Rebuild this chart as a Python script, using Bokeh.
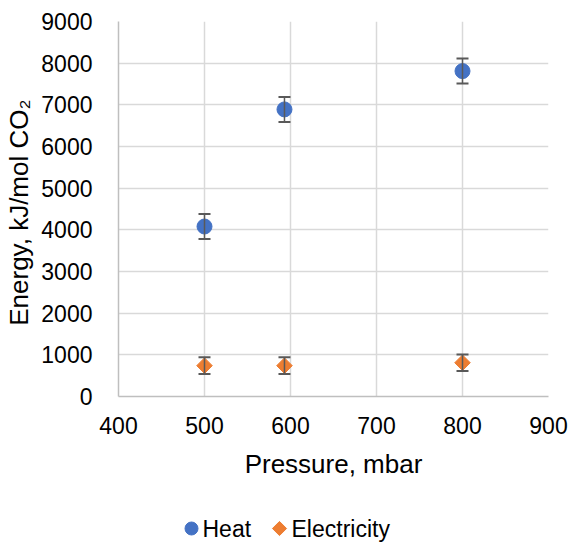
import math
from bokeh.plotting import figure
from bokeh.layouts import column
from bokeh.models import ColumnDataSource, Whisker, TeeHead, FixedTicker, Range1d
from bokeh.core.properties import value
from bokeh.embed import file_html
from bokeh.resources import INLINE

pressure_heat = [500, 593, 800]
heat = [4080, 6890, 7810]
heat_err = [300, 300, 300]

pressure_elec = [500, 593, 800]
electricity = [740, 740, 810]
elec_err = [200, 200, 200]

x_ticks = [400, 500, 600, 700, 800, 900]
y_ticks = [0, 1000, 2000, 3000, 4000, 5000, 6000, 7000, 8000, 9000]
series_names = ["Heat", "Electricity"]

FONT = "Liberation Sans"
HEAT_C = "#4472C4"
ELEC_C = "#ED7D31"
LEFT, RIGHT = 118, 23

p = figure(width=571, height=500, output_backend="svg", toolbar_location=None,
           x_range=Range1d(400, 900), y_range=Range1d(0, 9000),
           min_border_left=LEFT, min_border_right=RIGHT, min_border_top=21, min_border_bottom=104)
p.outline_line_color = None
p.background_fill_color = "white"
p.border_fill_color = "white"

p.xaxis.ticker = FixedTicker(ticks=x_ticks)
p.yaxis.ticker = FixedTicker(ticks=y_ticks)
for ax in (p.xaxis[0], p.yaxis[0]):
    ax.major_label_text_font = FONT
    ax.major_label_text_font_size = "23px"
    ax.major_label_text_color = "#000000"
    ax.axis_label_text_font = FONT
    ax.axis_label_text_font_size = "26px"
    ax.axis_label_text_font_style = "normal"
    ax.axis_label_text_color = "#000000"
    ax.axis_line_color = "#BFBFBF"
    ax.axis_line_width = 1.5
    ax.major_tick_line_color = None
    ax.minor_tick_line_color = None
p.xaxis.axis_label = "Pressure, mbar"
p.yaxis.axis_label = "Energy,  kJ/mol CO₂"
p.xaxis.major_label_standoff = 14
p.yaxis.major_label_standoff = 20
p.xaxis.axis_label_standoff = 12
p.yaxis.axis_label_standoff = 4
p.grid.grid_line_color = "#D9D9D9"
p.grid.grid_line_width = 1.5

src_h = ColumnDataSource(dict(x=pressure_heat, y=heat,
                              lo=[v - e for v, e in zip(heat, heat_err)],
                              hi=[v + e for v, e in zip(heat, heat_err)]))
src_e = ColumnDataSource(dict(x=pressure_elec, y=electricity,
                              lo=[v - e for v, e in zip(electricity, elec_err)],
                              hi=[v + e for v, e in zip(electricity, elec_err)]))

for src in (src_h, src_e):
    w = Whisker(source=src, base="x", lower="lo", upper="hi",
                line_color="#595959", line_width=1.5,
                upper_head=TeeHead(size=12, line_color="#595959", line_width=2),
                lower_head=TeeHead(size=12, line_color="#595959", line_width=2))
    w.level = "glyph"
    p.add_layout(w)

p.scatter("x", "y", source=src_h, marker="circle", size=15,
          fill_color=HEAT_C, line_color=HEAT_C)
p.scatter("x", "y", source=src_e, marker="square", size=11, angle=math.pi / 4,
          fill_color=ELEC_C, line_color=ELEC_C)

# legend strip below the chart (coordinates of this strip are screen pixels)
LG_H = 42
lg = figure(width=571, height=LG_H, output_backend="svg", toolbar_location=None,
            x_range=Range1d(LEFT, 571 - RIGHT), y_range=Range1d(0, LG_H),
            min_border_left=LEFT, min_border_right=RIGHT, min_border_top=0, min_border_bottom=0)
lg.axis.visible = False
lg.grid.visible = False
lg.outline_line_color = None
lg.background_fill_color = "white"
lg.border_fill_color = "white"

leg_y = LG_H - 28
lg.scatter(x=[191], y=[leg_y], marker="circle", size=13, fill_color=HEAT_C, line_color=HEAT_C)
lg.scatter(x=[279], y=[leg_y], marker="square", size=10, angle=math.pi / 4,
           fill_color=ELEC_C, line_color=ELEC_C)
lg.text(x=[202, 291], y=[leg_y, leg_y], text=series_names,
        text_font=value(FONT), text_font_size="23px", text_color="#000000",
        text_baseline="middle", text_align="left")

layout = column(p, lg, spacing=0)
open("out.html", "w").write(file_html(layout, INLINE))
